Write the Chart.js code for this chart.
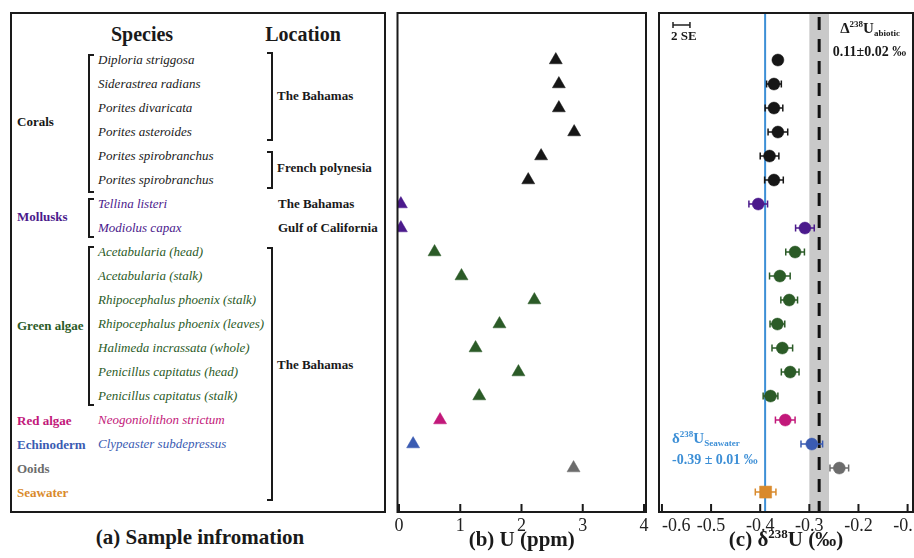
<!DOCTYPE html>
<html>
<head>
<meta charset="utf-8">
<script src="https://cdn.jsdelivr.net/npm/chart.js@4.4.1/dist/chart.umd.min.js"></script>
<style>
body { margin: 0; background: #fff; width: 914px; height: 558px; overflow: hidden; position: relative;
       font-family: "Liberation Serif", "Times New Roman", serif; }
canvas { position: absolute; top: 0; }
#chartB { left: 380px; }
#chartC { left: 640px; }
#panelA { position: absolute; left: 10px; top: 12px; width: 376px; height: 501px;
          border: 2px solid #1a1a1a; box-sizing: border-box; }
.t { position: absolute; white-space: nowrap; height: 18px; line-height: 18px; font-size: 13px; }
.b { font-weight: bold; }
.i { font-style: italic; }
.brL { position: absolute; width: 4px; border: 2px solid #1a1a1a; border-right: none; }
.brR { position: absolute; width: 4px; border: 2px solid #1a1a1a; border-left: none; }
#titleA { position: absolute; left: 0; width: 400px; top: 525px; text-align: center;
          font-weight: bold; font-size: 21px; color: #1a1a1a; }
</style>
</head>
<body>
<div id="panelA"></div>
<div id="titleA">(a) Sample infromation</div>
<canvas id="chartB" width="285" height="558"></canvas>
<canvas id="chartC" width="282" height="558"></canvas>
<script>
// -----------------------------
// DATA
// -----------------------------
const species = [
    "Diploria striggosa", "Siderastrea radians", "Porites divaricata", "Porites asteroides",
    "Porites spirobranchus", "Porites spirobranchus", "Tellina listeri", "Modiolus capax",
    "Acetabularia (head)", "Acetabularia (stalk)", "Rhipocephalus phoenix (stalk)",
    "Rhipocephalus phoenix (leaves)", "Halimeda incrassata (whole)", "Penicillus capitatus (head)",
    "Penicillus capitatus (stalk)", "Neogoniolithon strictum", "Clypeaster subdepressus", "", ""
];
const groupNames = ["Corals", "Mollusks", "Green algae", "Red algae", "Echinoderm", "Ooids", "Seawater"];
const groupFirst = [0, 6, 8, 15, 16, 17, 18];
const groupLast = [5, 7, 14, 15, 16, 17, 18];
const groupColors = ["#161616", "#4b1a8c", "#2b5b27", "#c2187a", "#3a5bb2", "#6c6c6c", "#d98a2c"];

const locationNames = ["The Bahamas", "French polynesia", "The Bahamas", "Gulf of California", "The Bahamas"];
const locationFirst = [0, 4, 6, 7, 8];
const locationLast = [3, 5, 6, 7, 18];

// U concentration (ppm), one per row (seawater not measured)
const uPpm = [2.56, 2.61, 2.61, 2.86, 2.32, 2.11, 0.03, 0.03, 0.58, 1.02, 2.21, 1.64, 1.25, 1.95, 1.31, 0.67, 0.23, 2.85, null];
// delta238U (permil) and 2SE
const d238U = [-0.364, -0.372, -0.372, -0.364, -0.381, -0.372, -0.404, -0.309, -0.329, -0.360, -0.341, -0.365, -0.355, -0.339, -0.379, -0.349, -0.295, -0.239, -0.389];
const d238Uerr = [0.008, 0.015, 0.018, 0.020, 0.019, 0.019, 0.019, 0.019, 0.019, 0.021, 0.017, 0.015, 0.021, 0.018, 0.015, 0.020, 0.022, 0.019, 0.021];

const uTicks = [0, 1, 2, 3, 4];
const dTicks = [-0.6, -0.5, -0.4, -0.3, -0.2, -0.1];
const seawater = -0.39;
const abioticShift = 0.11;
const abioticErr = 0.02;

const serif = '"Liberation Serif", "Times New Roman", serif';

function groupOf(i) {
    return groupFirst.findIndex((f, g) => i >= f && i <= groupLast[g]);
}
const rowColors = species.map((_, i) => groupColors[groupOf(i)]);


// -----------------------------
// HELPERS
// -----------------------------
function drawRich(ctx, parts, x, y, align, color) {
    let w = 0;
    parts.forEach(p => {
        ctx.font = 'bold ' + p[1] + 'px ' + serif;
        w += ctx.measureText(p[0]).width;
    });
    let cx = align === 'center' ? x - w / 2 : x;
    ctx.fillStyle = color;
    ctx.textAlign = 'left';
    ctx.textBaseline = 'alphabetic';
    parts.forEach(p => {
        ctx.font = 'bold ' + p[1] + 'px ' + serif;
        ctx.fillText(p[0], cx, y + (p[2] || 0));
        cx += ctx.measureText(p[0]).width;
    });
}

// frame, inward ticks, tick labels, axis title
const axisBox = {
    id: 'axisBox',
    afterDraw(chart, args, opts) {
        const { ctx, chartArea: a, scales: { x } } = chart;
        ctx.save();
        ctx.strokeStyle = '#1a1a1a';
        ctx.lineWidth = 2;
        ctx.strokeRect(a.left, a.top, a.right - a.left, a.bottom - a.top);

        ctx.font = '18px ' + serif;
        ctx.fillStyle = '#222';
        ctx.textBaseline = 'middle';
        x.ticks.forEach((t, i) => {
            const px = x.getPixelForValue(t.value);
            ctx.beginPath();
            ctx.moveTo(px, a.bottom);
            ctx.lineTo(px, a.bottom - 8);
            ctx.stroke();
            ctx.textAlign = (i === 0 && opts.firstLeft) ? 'left' : 'center';
            ctx.fillText(opts.fmt(t.value), px, a.bottom + 14);
        });
        drawRich(ctx, opts.title, (a.left + a.right) / 2, 546, 'center', '#1a1a1a');
        ctx.restore();
    }
};

function baseOptions(xmin, xmax, ticks) {
    return {
        responsive: false,
        animation: false,
        layout: { padding: { top: 13, bottom: 46 } },
        plugins: { legend: { display: false }, tooltip: { enabled: false } },
        scales: {
            x: {
                type: 'linear', min: xmin, max: xmax,
                afterBuildTicks: s => { s.ticks = ticks.map(v => ({ value: v })); },
                ticks: { display: false },
                grid: { display: false, drawTicks: false },
                border: { display: false }
            },
            y: { type: 'linear', min: -1.96, max: 18.83, reverse: true, display: false }
        }
    };
}


// -----------------------------
// PANEL (b) U (ppm)
// -----------------------------
const optsB = baseOptions(-0.025, 4.033, uTicks);
optsB.layout.padding.left = 17.5;
optsB.layout.padding.right = 19;
optsB.plugins.axisBox = { fmt: v => String(v), title: [['(b) U (ppm)', 21]] };

const chartB = new Chart(document.getElementById('chartB'), {
    type: 'scatter',
    data: {
        datasets: [{
            data: uPpm.map((v, i) => ({ x: v, y: i })).filter(p => p.x !== null),
            pointStyle: 'triangle',
            pointRadius: 7.5,
            borderWidth: 0.5,
            backgroundColor: rowColors.filter((c, i) => uPpm[i] !== null),
            borderColor: rowColors.filter((c, i) => uPpm[i] !== null)
        }]
    },
    options: optsB,
    plugins: [axisBox]
});


// -----------------------------
// PANEL (c) d238U
// -----------------------------
const guides = {
    id: 'guides',
    beforeDatasetsDraw(chart) {
        const { ctx, chartArea: a, scales: { x, y } } = chart;
        const abiotic = seawater + abioticShift;
        ctx.save();
        // abiotic band
        ctx.fillStyle = '#c9c9c9';
        const b0 = x.getPixelForValue(abiotic - abioticErr);
        const b1 = x.getPixelForValue(abiotic + abioticErr);
        ctx.fillRect(b0, a.top, b1 - b0, a.bottom - a.top);
        // abiotic dashed line
        ctx.strokeStyle = '#111';
        ctx.lineWidth = 3;
        ctx.setLineDash([13, 9]);
        ctx.beginPath();
        ctx.moveTo(x.getPixelForValue(abiotic), a.top + 4);
        ctx.lineTo(x.getPixelForValue(abiotic), a.bottom);
        ctx.stroke();
        ctx.setLineDash([]);
        // seawater line
        ctx.strokeStyle = '#3d8fd6';
        ctx.lineWidth = 2;
        ctx.beginPath();
        ctx.moveTo(x.getPixelForValue(seawater), a.top);
        ctx.lineTo(x.getPixelForValue(seawater), a.bottom);
        ctx.stroke();
        // error bars
        ctx.lineWidth = 1.5;
        d238U.forEach((v, i) => {
            const py = y.getPixelForValue(i);
            const l = x.getPixelForValue(v - d238Uerr[i]);
            const r = x.getPixelForValue(v + d238Uerr[i]);
            ctx.strokeStyle = rowColors[i];
            ctx.beginPath();
            ctx.moveTo(l, py); ctx.lineTo(r, py);
            ctx.moveTo(l, py - 3.5); ctx.lineTo(l, py + 3.5);
            ctx.moveTo(r, py - 3.5); ctx.lineTo(r, py + 3.5);
            ctx.stroke();
        });
        // 2 SE scale bar
        ctx.strokeStyle = '#222';
        const s0 = x.getPixelForValue(-0.5775), s1 = x.getPixelForValue(-0.543);
        ctx.beginPath();
        ctx.moveTo(s0, 25); ctx.lineTo(s1, 25);
        ctx.moveTo(s0, 22); ctx.lineTo(s0, 28);
        ctx.moveTo(s1, 22); ctx.lineTo(s1, 28);
        ctx.stroke();
        ctx.restore();
    },
    afterDraw(chart) {
        const { ctx, scales: { x } } = chart;
        ctx.save();
        drawRich(ctx, [['2 SE', 13]], x.getPixelForValue(-0.5816), 40, 'left', '#1a1a1a');
        drawRich(ctx, [['Δ', 15], ['238', 9, -6], ['U', 15], ['abiotic', 9, 3]], x.getPixelForValue(-0.1765), 33, 'center', '#1a1a1a');
        drawRich(ctx, [['0.11±0.02 ‰', 14]], x.getPixelForValue(-0.1775), 56, 'center', '#1a1a1a');
        drawRich(ctx, [['δ', 15], ['238', 9, -6], ['U', 15], ['Seawater', 9, 3]], x.getPixelForValue(-0.5795), 443, 'left', '#3d8fd6');
        drawRich(ctx, [['-0.39 ± 0.01 ‰', 14]], x.getPixelForValue(-0.5795), 464, 'left', '#3d8fd6');
        ctx.restore();
    }
};

const optsC = baseOptions(-0.606, -0.089, dTicks);
optsC.layout.padding.left = 19;
optsC.layout.padding.right = 9;
optsC.plugins.axisBox = {
    fmt: v => v.toFixed(1),
    firstLeft: true,
    title: [['(c) δ', 21], ['238', 13, -8], ['U (‰)', 21]]
};

const chartC = new Chart(document.getElementById('chartC'), {
    type: 'scatter',
    data: {
        datasets: [{
            data: d238U.map((v, i) => ({ x: v, y: i })),
            pointStyle: d238U.map((v, i) => i === 18 ? 'rect' : 'circle'),
            pointRadius: d238U.map((v, i) => i === 18 ? 8.5 : 6),
            borderWidth: 0.5,
            backgroundColor: rowColors,
            borderColor: rowColors
        }]
    },
    options: optsC,
    plugins: [guides, axisBox]
});


// -----------------------------
// PANEL (a) SAMPLE INFORMATION
// -----------------------------
const panel = document.getElementById('panelA');
const yPix = i => chartB.scales.y.getPixelForValue(i) - 14; // relative to panel box

function addText(txt, x, y, cls, color) {
    const d = document.createElement('div');
    d.className = 't ' + cls;
    d.textContent = txt;
    d.style.left = x + 'px';
    d.style.top = (y - 9) + 'px';
    d.style.color = color;
    panel.appendChild(d);
}
function addBracket(cls, x, y0, y1) {
    const d = document.createElement('div');
    d.className = cls;
    d.style.left = x + 'px';
    d.style.top = y0 + 'px';
    d.style.height = (y1 - y0) + 'px';
    panel.appendChild(d);
}

const headY = chartB.scales.y.getPixelForValue(-1.1) - 14;
const head = (txt, cx) => {
    const d = document.createElement('div');
    d.className = 't b';
    d.textContent = txt;
    d.style.fontSize = '20px';
    d.style.left = (cx - 60) + 'px';
    d.style.width = '120px';
    d.style.textAlign = 'center';
    d.style.top = (headY - 9) + 'px';
    d.style.color = '#1a1a1a';
    panel.appendChild(d);
};
head('Species', 130);
head('Location', 291);

species.forEach((s, i) => {
    if (s) addText(s, 86, yPix(i), 'i', i < 6 ? '#1a1a1a' : rowColors[i]);
});
groupNames.forEach((g, k) => {
    const y = (yPix(groupFirst[k]) + yPix(groupLast[k])) / 2 + (groupLast[k] > groupFirst[k] + 2 ? 2 : 1);
    addText(g, 5, y, 'b', groupColors[k]);
    if (groupLast[k] > groupFirst[k]) {
        addBracket('brL', 76, yPix(groupFirst[k]) - 6, yPix(groupLast[k]) + (k === 0 ? 9 : 6));
    }
});
locationNames.forEach((l, k) => {
    const span = locationLast[k] > locationFirst[k];
    let y = (yPix(locationFirst[k]) + yPix(locationLast[k])) / 2;
    if (k === 4) y -= 7;
    addText(l, span ? 265 : 266, y, 'b', '#1a1a1a');
    if (span) {
        addBracket('brR', 255, yPix(locationFirst[k]) - (k === 0 ? 8 : 5), yPix(locationLast[k]) + 5);
    }
});
</script>
</body>
</html>
